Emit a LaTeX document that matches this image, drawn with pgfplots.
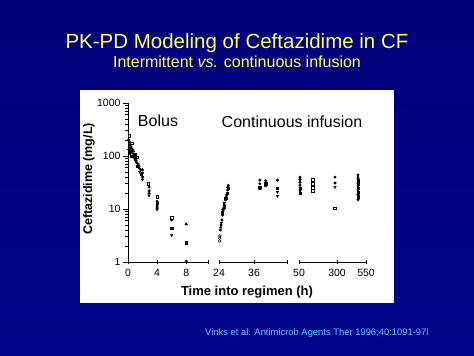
\documentclass[border=0pt]{standalone}
\usepackage{pgfplots}
\pgfplotsset{compat=1.18}
\usepackage{fontspec}
\setmainfont{Liberation Sans}
\definecolor{ttl}{RGB}{255,255,110}
\definecolor{cit}{RGB}{100,195,255}
\definecolor{bgtop}{RGB}{0,0,120}
\definecolor{bgmid}{RGB}{30,50,225}
\definecolor{bgbot}{RGB}{5,5,140}
\pgfplotsset{
  mysegstyle/.style={scale only axis, height=159bp, ymin=1, ymax=1000,
    clip=false, axis x line*=bottom,
    axis line style={black, line width=0.8bp},
    every tick/.style={black, line width=0.8bp},
    xtick align=center, major tick length=5bp,
    /pgf/number format/assume math mode=true,
    tick label style={font=\fontsize{10.5bp}{12bp}\selectfont},
    xticklabel style={yshift=-1bp}},
  mkSq/.style={only marks, mark=square, mark size=1.3bp, mark options={draw=black, fill=white, line width=0.5bp}},
  mkCi/.style={only marks, mark=*, mark size=1.3bp, mark options={draw=black, fill=black}},
  mkTr/.style={only marks, mark=triangle*, mark size=1.5bp, mark options={draw=black, fill=black}},
  mkItr/.style={only marks, mark=triangle*, mark size=1.5bp, mark options={draw=black, fill=black, rotate=180}},
  mkFsq/.style={only marks, mark=square*, mark size=1.2bp, mark options={draw=black, fill=black}},
  mkOc/.style={only marks, mark=o, mark size=1.4bp, mark options={draw=black, line width=0.5bp}},
}
\begin{document}
\begin{tikzpicture}[x=1bp,y=1bp]
\shade[top color=bgtop, middle color=bgmid, bottom color=bgbot] (0,0) rectangle (474,355);
\useasboundingbox (0,0) rectangle (474,355);
\fill[white] (80,52) rectangle (394,265);
\node[text=ttl, font=\fontsize{20.5bp}{24bp}\selectfont] at (237,312) {PK-PD Modeling of Ceftazidime in CF};
\node[text=ttl, font=\fontsize{16bp}{19bp}\selectfont] at (237,293) {Intermittent \textit{vs.} continuous infusion};
\node[text=cit, font=\fontsize{9.4bp}{11bp}\selectfont, anchor=west, inner sep=0pt] at (205,22) {Vinks et al. Antimicrob Agents Ther 1996;40:1091-97l};
\node[font=\fontsize{16bp}{18bp}\selectfont] at (158,234) {Bolus};
\node[font=\fontsize{16bp}{18bp}\selectfont] at (292,233) {Continuous infusion};
\node[font=\bfseries\fontsize{13bp}{15bp}\selectfont] at (247,63) {Time into regimen (h)};
\node[font=\bfseries\fontsize{12.5bp}{14bp}\selectfont, rotate=90] at (89,176) {Ceftazidime (mg/L)};

% segment 1: 0-11 h
\begin{axis}[ymode=log, mysegstyle, at={(128bp,93bp)}, anchor=south west, width=80bp,
  xmin=0, xmax=11, xtick={0,4,8,11}, xticklabels={0,4,8,{}},
  axis y line*=left, ytick align=outside,
  ytick={1,10,100,1000}, yticklabels={1,10,100,1000},
  yticklabel style={xshift=1bp}]
\addplot[mkSq] coordinates {(0.15,240)(0.5,175)(1.25,95)(2.8,30)(4,17)(6,6.8)};
\addplot[mkCi] coordinates {(0.1,200)(0.2,160)(0.3,140)(0.4,150)(0.5,120)(0.6,130)(0.75,110)(0.8,95)(1.0,100)(1.0,85)(1.2,75)(1.4,70)(1.5,60)(1.75,55)(2.0,48)(2.0,40)(2.9,26)(2.9,22)(4,14)(4,12)(4,10.5)(6,6.2)};
\addplot[mkTr] coordinates {(0.25,180)(0.5,140)(0.75,125)(1,90)(1.5,65)(2,55)(2.9,20)(4,11.5)(8,5.2)};
\addplot[mkItr] coordinates {(0.1,130)(0.3,110)(0.6,100)(1.1,80)(1.6,50)(2.0,36)(2.9,18)(4,9.8)(6,3.2)};
\addplot[mkFsq] coordinates {(0.2,120)(0.4,100)(0.9,105)(1.3,65)(1.8,45)(4,13)(6,4.4)(8,2.3)};
\addplot[mkOc] coordinates {(8,1.03)};
\end{axis}

% segment 2: 24-47.3 h
\begin{axis}[ymode=log, mysegstyle, at={(219bp,93bp)}, anchor=south west, width=68bp,
  xmin=24, xmax=47.3, xtick={24,36,47.3}, xticklabels={24,36,{}},
  axis y line=none]
\addplot[mkOc] coordinates {(24.2,2.5)(24.2,2.8)(24.3,3.1)};
\addplot[mkCi] coordinates {(24.5,4)(24.7,5)(25,6.2)(25.2,7.7)(25.5,9.6)(25.8,11.9)(26.2,14.8)(26.6,18.4)(27,22.8)(27.2,28)(38,35)(38,30)(40,34)(44,35)};
\addplot[mkFsq] coordinates {(25,8.5)(25.7,11)(26.3,16)(26.8,20)(27.1,25)(38,26)(40,30)(44,25)};
\addplot[mkTr] coordinates {(24.6,4.5)(25.3,10)(26.5,17)(27,26)(38,24)(40,27)};
\addplot[mkItr] coordinates {(24.8,5.5)(25.8,13)(44,21)(44,17.6)};
\end{axis}

% segment 3: 50 / 300 / 550
\begin{axis}[ymode=log, mysegstyle, at={(299bp,93bp)}, anchor=south west, width=67bp,
  xmin=0, xmax=67, xtick={0,38,67}, xticklabels={50,300,550},
  axis y line=none]
\addplot[mkCi] coordinates {(1,40)(1,36)(1,32)(1,28)(1,22)(36,40)(36,31)(59,44)(59,40)(59,37)(59,31)(59,27)(59,23)(59,19)(59,15)};
\addplot[mkFsq] coordinates {(1,25)(1,20)(59,34)(59,29)(59,25)(59,21)(59,17)};
\addplot[mkSq] coordinates {(14,36)(14,30)(14,25)(14,22)(36,10.4)};
\addplot[mkItr] coordinates {(36,26)};
\end{axis}
\end{tikzpicture}
\end{document}
